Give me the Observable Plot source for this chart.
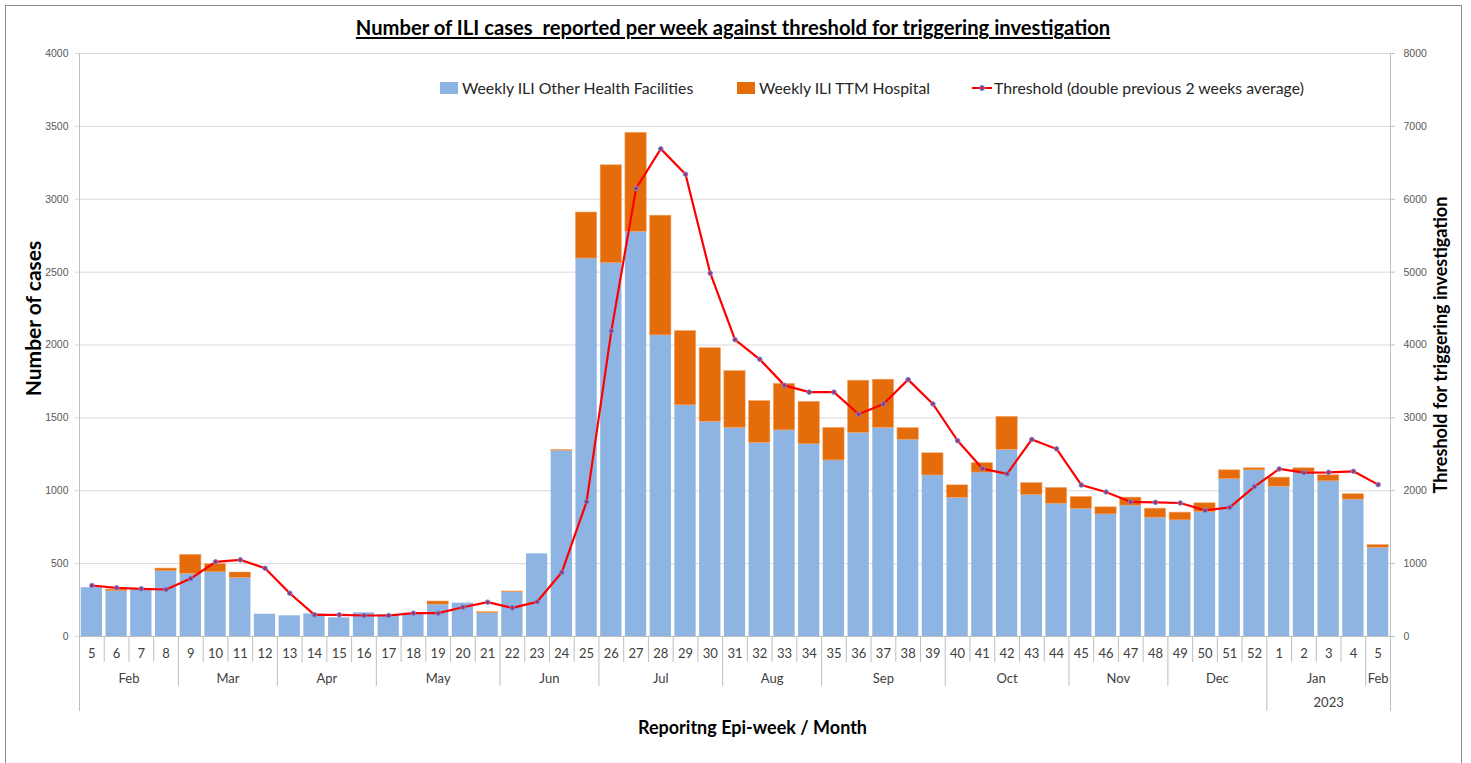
<!DOCTYPE html>
<html>
<head>
<meta charset="utf-8">
<script src="https://cdn.jsdelivr.net/npm/d3@7"></script>
<script src="https://cdn.jsdelivr.net/npm/@observablehq/plot@0.6"></script>
<style>
  html, body { margin: 0; padding: 0; background: #fff; }
  #wrap { position: relative; width: 1471px; height: 763px; overflow: hidden; font-family: Lato, "Open Sans", sans-serif; }
  #frame { position: absolute; left: 5px; top: 5px; width: 1457px; height: 800px; border: 1px solid #8c8c8c; box-sizing: border-box; }
  #chart { position: absolute; left: 0; top: 0; }
  .title { position: absolute; left: 0; width: 1466px; top: 15px; text-align: center; font-weight: 700; font-size: 20.2px; text-decoration: underline; color: #000; }
  .legend { position: absolute; top: 78px; font-size: 15.8px; color: #262626; display: flex; align-items: center; white-space: nowrap; }
  .sw { display: inline-block; width: 18px; height: 12px; margin-right: 4px; }
  .ytitle { position: absolute; font-weight: 700; color: #000; white-space: nowrap; transform-origin: center center; }
  .xtitle { position: absolute; left: 0; width: 1505px; top: 716px; text-align: center; font-weight: 700; font-size: 18px; color: #000; }
</style>
</head>
<body>
<div id="wrap">
  <div id="frame"></div>
  <div id="chart"></div>
  <div class="title">Number of ILI cases&nbsp; reported per week against threshold for triggering investigation</div>
  <div class="legend" style="left:440px"><span class="sw" style="background:#8EB4E3"></span>Weekly ILI Other Health Facilities</div>
  <div class="legend" style="left:737px"><span class="sw" style="background:#E46C0A"></span>Weekly ILI TTM Hospital</div>
  <div class="legend" style="left:972px"><svg width="20" height="12" style="margin-right:2px"><line x1="0" y1="6" x2="20" y2="6" stroke="#ff0000" stroke-width="2"/><circle cx="10" cy="6" r="2.5" fill="#a03070" stroke="#7b8fd6"/></svg>Threshold (double previous 2 weeks average)</div>
  <div class="ytitle" id="yl" style="font-size:21px">Number of cases</div>
  <div class="ytitle" id="yr" style="font-size:18px">Threshold for triggering investigation</div>
  <div class="xtitle">Reporitng Epi-week / Month</div>
</div>
<script>
// ---- data ----
const weeks = [5,6,7,8,9,10,11,12,13,14,15,16,17,18,19,20,21,22,23,24,25,26,27,28,29,30,31,32,33,34,35,36,37,38,39,40,41,42,43,44,45,46,47,48,49,50,51,52,1,2,3,4,5];
const otherFacilities = [335,311,320,448,430,441,402,153,142,155,128,162,149,160,219,229,160,304,567,1275,2593,2561,2777,2066,1586,1473,1431,1328,1414,1319,1208,1397,1431,1350,1105,951,1125,1281,971,911,875,838,898,815,797,854,1079,1140,1028,1129,1065,939,609];
const ttmHospital = [0,11,0,18,130,55,37,0,0,0,0,0,0,0,21,0,7,5,0,4,316,672,679,821,510,505,390,287,319,291,223,358,331,79,152,86,64,226,81,108,82,48,55,62,53,60,61,14,62,25,41,37,18];
const threshold = [700,668,654,645,796,1025,1052,937,594,297,297,288,288,320,320,402,471,393,476,882,1848,4191,6147,6691,6343,4985,4073,3804,3446,3353,3353,3049,3191,3525,3191,2686,2304,2232,2704,2574,2079,1983,1846,1841,1832,1731,1772,2056,2299,2249,2253,2267,2084];
const months = ["Feb","Mar","Apr","May","Jun","Jul","Aug","Sep","Oct","Nov","Dec","Jan","Feb"];
const monthWeekCounts = [4,4,4,5,4,5,4,5,5,4,4,4,1];
const years = ["", "2023"];
const yearWeekCounts = [48, 5];
const leftTicks = [0,500,1000,1500,2000,2500,3000,3500,4000];
const rightTicks = [0,1000,2000,3000,4000,5000,6000,7000,8000];

// ---- derived tables ----
const rows = weeks.map((w, i) => ({i, week: w, other: otherFacilities[i], ttm: ttmHospital[i], thr: threshold[i]}));
function groups(labels, counts) {
  let s = 0;
  return labels.map((label, k) => { const g = {label, start: s, end: s + counts[k]}; s += counts[k]; return g; });
}
const monthGroups = groups(months, monthWeekCounts);
const yearGroups = groups(years, yearWeekCounts);
const n = weeks.length;
const weekSeps = d3.range(1, n);
const monthSeps = monthGroups.map(g => g.start).filter(v => v > 0);
const yearSeps = [0, ...yearGroups.map(g => g.end)];

const grid = "#d9d9d9";
const axisGray = "#bfbfbf";

const chart = Plot.plot({
  width: 1471,
  height: 763,
  marginLeft: 79,
  marginRight: 81,
  marginTop: 53,
  marginBottom: 127,
  x: {domain: [0, n], axis: null},
  y: {domain: [0, 4000], axis: null},
  style: {fontFamily: "Lato, sans-serif", fontSize: "13px", background: "transparent", overflow: "visible"},
  marks: [
    Plot.ruleY(leftTicks, {stroke: grid, insetLeft: -4, strokeWidth: 1}),
    Plot.ruleY(leftTicks, {x1: n, x2: n, insetRight: -5, stroke: axisGray}),
    Plot.rect(rows, {x1: d => d.i + 0.07, x2: d => d.i + 0.93, y1: 0, y2: d => d.other, fill: "#8EB4E3"}),
    Plot.rect(rows.filter(d => d.ttm > 0), {x1: d => d.i + 0.07, x2: d => d.i + 0.93, y1: d => d.other, y2: d => d.other + d.ttm, fill: "#E46C0A", stroke: "#F2A365", strokeWidth: 0.6}),
    Plot.ruleY([0], {stroke: axisGray}),
    Plot.ruleX(yearSeps, {x: d => d, y1: d => (d === 0 || d === n) ? 4000 : 0, y2: 0, insetBottom: -75, stroke: axisGray}),
    Plot.ruleX(weekSeps.filter(v => !monthSeps.includes(v)), {x: d => d, y1: 0, y2: 0, insetBottom: -26, stroke: axisGray}),
    Plot.ruleX(monthSeps.filter(v => !yearSeps.includes(v)), {x: d => d, y1: 0, y2: 0, insetBottom: -50, stroke: axisGray}),
    Plot.line(rows, {x: d => d.i + 0.5, y: d => d.thr / 2, stroke: "#ff0000", strokeWidth: 2.2}),
    Plot.dot(rows, {x: d => d.i + 0.5, y: d => d.thr / 2, r: 2.3, fill: "#a03070", stroke: "#7b8fd6", strokeWidth: 1}),
    Plot.text(rows, {x: d => d.i + 0.5, y: 0, text: d => String(d.week), dy: 17, fill: "#404040", fontSize: 13}),
    Plot.text(monthGroups, {x: d => (d.start + d.end) / 2, y: 0, text: "label", dy: 42, fill: "#404040", fontSize: 13}),
    Plot.text(yearGroups, {x: d => (d.start + d.end) / 2, y: 0, text: "label", dy: 66, fill: "#404040", fontSize: 13}),
    Plot.text(leftTicks, {frameAnchor: "left", y: d => d, text: d => String(d), dx: -11, textAnchor: "end", fill: "#595959", fontSize: 10.5, fontFamily: "Liberation Sans, Arial, sans-serif"}),
    Plot.text(rightTicks, {frameAnchor: "right", y: d => d / 2, text: d => String(d), dx: 13, textAnchor: "start", fill: "#595959", fontSize: 10.5, fontFamily: "Liberation Sans, Arial, sans-serif"})
  ]
});
document.getElementById("chart").appendChild(chart);

function placeRotated(el, cx, cy) {
  const w = el.offsetWidth, h = el.offsetHeight;
  el.style.left = (cx - w / 2) + "px";
  el.style.top = (cy - h / 2) + "px";
  el.style.transform = "rotate(-90deg)";
}
placeRotated(document.getElementById("yl"), 33, 318);
placeRotated(document.getElementById("yr"), 1440, 345);
</script>
</body>
</html>
